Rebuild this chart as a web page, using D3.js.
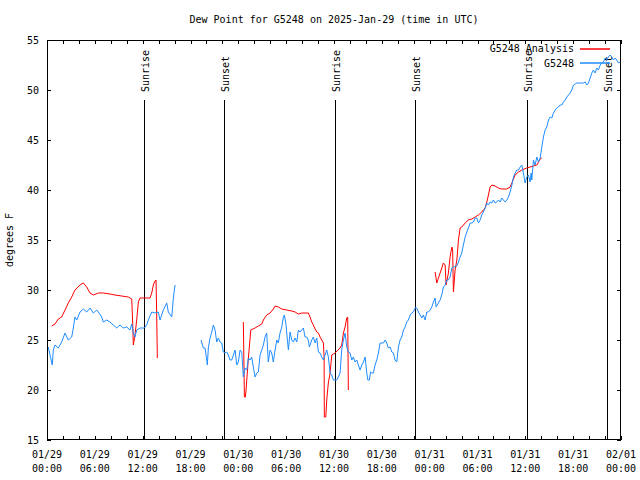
<!DOCTYPE html>
<html><head><meta charset="utf-8">
<script src="https://cdn.jsdelivr.net/npm/d3@7"></script>
<style>
body{margin:0;background:#fff}
text{font-family:"DejaVu Sans Mono","Liberation Mono",monospace;font-size:10px;fill:#000}
</style>
</head><body><svg id="c" width="640" height="480"></svg>
<script>
const title = "Dew Point for G5248 on 2025-Jan-29 (time in UTC)";
const yTitle = "degrees F";
const startTime = "2025-01-29T00:00:00Z";
const endTime = "2025-02-01T00:00:00Z";
const yTicks = [15, 20, 25, 30, 35, 40, 45, 50, 55];
const seriesNames = ["G5248 Analysis", "G5248"];
const seriesColors = ["#ff0000", "#1e8cff"];
const sunLabels = ["Sunrise", "Sunset", "Sunrise", "Sunset", "Sunrise", "Sunset"];
const sunHours = [12.17, 22.21, 36.14, 46.17, 60.23, 70.26];

// Analysis (red): hours since start, dew point F; null = gap
const anaHours = [0.59,1.0,1.42,1.84,2.26,2.67,3.10,3.51,4.14,4.55,4.98,5.40,5.81,6.44,7.06,7.90,8.53,9.37,10.20,10.63,10.75,10.83,11.04,11.25,11.46,11.67,12.30,12.92,13.14,13.34,13.55,13.68,13.77,13.84,
 null,
 24.63,24.76,24.88,24.97,25.06,25.26,25.38,25.56,26.10,26.51,26.94,27.14,27.56,27.98,28.39,28.61,29.02,29.45,30.07,30.70,31.12,31.53,31.96,32.78,32.99,33.21,33.41,33.63,33.84,34.04,34.25,34.46,34.67,34.76,34.79,34.97,35.09,35.29,35.51,35.72,36.13,36.76,36.97,37.18,37.39,37.60,37.72,37.80,
 null,
 48.68,48.90,49.10,49.31,49.52,49.72,49.94,50.06,50.35,50.56,50.78,50.88,50.98,51.19,51.41,51.61,51.82,52.03,52.45,52.86,53.29,53.70,54.12,54.54,54.96,55.17,55.37,55.58,55.80,56.21,56.62,57.05,57.68,58.09,58.31,58.72,59.14,59.56,60.18,60.60,61.02,61.44,61.86,62.07];
const anaDew = [26.4,26.6,27.1,27.3,28.0,28.7,29.3,30.0,30.5,30.7,30.3,29.7,29.5,29.7,29.7,29.6,29.5,29.4,29.3,29.1,26.7,24.5,25.5,27.0,28.8,29.2,29.2,29.2,29.7,30.5,30.9,31.0,27.0,23.2,
 null,
 26.8,19.3,19.3,20.0,21.0,23.2,24.3,26.0,26.2,26.4,26.6,27.0,27.5,27.7,28.1,28.4,28.3,28.1,28.0,27.9,27.8,27.6,27.7,27.7,27.3,26.8,26.5,26.1,25.8,25.7,25.3,25.0,24.7,23.3,17.3,17.3,19.0,20.7,21.7,23.5,23.7,24.2,24.5,25.7,26.3,27.2,27.3,20.0,
 null,
 31.8,30.7,31.2,31.7,32.2,32.7,32.5,30.5,31.7,33.3,34.3,34.0,29.8,32.0,33.0,35.0,36.2,36.3,36.7,37.0,37.1,37.3,37.5,37.8,38.2,38.8,39.5,40.3,40.5,40.4,40.2,40.1,40.1,40.3,40.7,41.5,41.8,42.0,42.2,42.3,42.4,42.5,43.1,43.2];

// Observations (blue)
const obsHours = [0.16,0.38,0.66,0.79,1.0,1.42,1.84,2.26,2.67,3.10,3.26,3.51,3.73,4.14,4.55,4.98,5.40,5.81,6.24,6.44,6.86,7.06,7.49,7.90,8.32,8.75,9.16,9.57,10.0,10.41,10.63,10.83,11.04,11.25,11.67,12.21,12.51,12.71,13.14,13.55,13.96,14.18,14.59,15.02,15.22,15.65,15.85,16.06,
 null,
 19.32,19.61,19.82,20.04,20.11,20.24,20.45,20.67,20.87,21.08,21.29,21.49,21.71,21.92,22.12,22.33,22.55,22.75,22.96,23.17,23.38,23.59,23.80,24.0,24.22,24.43,24.63,24.84,25.06,25.26,25.47,25.68,25.88,26.10,26.31,26.51,26.73,26.94,27.14,27.35,27.56,27.76,27.98,28.19,28.39,28.61,28.82,29.02,29.23,29.45,29.65,29.78,29.99,30.07,30.28,30.49,30.70,30.90,31.12,31.33,31.53,31.74,31.96,32.16,32.37,32.58,32.78,32.91,33.21,33.41,33.63,33.84,34.04,34.25,34.46,34.67,34.88,35.09,35.29,35.51,35.72,35.92,36.35,36.55,36.76,36.97,37.18,37.39,37.60,37.80,38.02,38.23,38.43,38.64,38.86,39.06,39.27,39.49,39.69,39.90,40.11,40.24,40.44,40.59,40.74,40.94,41.15,41.37,41.57,41.78,42.20,42.41,42.62,42.82,43.04,43.25,43.45,43.66,43.87,44.08,44.29,44.50,44.71,44.92,45.13,45.33,45.55,45.76,45.96,46.17,46.38,46.59,46.80,47.01,47.21,47.43,47.64,47.84,48.06,48.27,48.47,48.68,48.81,49.10,49.31,49.52,49.72,49.94,50.15,50.35,50.56,50.78,50.98,51.41,51.61,51.82,52.03,52.23,52.45,52.66,52.86,53.07,53.29,53.49,53.70,53.91,54.12,54.33,54.54,54.74,54.96,55.17,55.37,55.58,55.80,56.0,56.21,56.42,56.62,56.84,57.05,57.25,57.46,57.68,57.88,58.09,58.31,58.51,58.72,58.93,59.14,59.35,59.56,59.76,59.97,60.18,60.39,60.60,60.73,60.81,61.02,61.23,61.44,61.64,61.86,62.07,62.27,62.48,62.70,62.90,63.11,63.32,63.53,63.74,63.95,64.15,64.37,64.58,64.78,64.99,65.21,65.41,65.62,65.83,66.04,66.25,66.46,66.88,67.30,67.50,67.71,67.92,68.13,68.34,68.54,68.76,68.97,69.17,69.39,69.60,69.80,70.01,70.22,70.42,70.64,70.85,71.05,71.27,71.47,71.68,71.89];
const obsDew = [24.3,23.5,22.5,24.0,24.5,24.2,24.8,25.7,25.0,25.3,26.0,27.3,27.0,27.8,28.1,27.8,28.2,27.7,28.0,27.8,27.3,26.8,27.0,26.8,26.5,26.2,26.5,26.2,26.3,26.0,26.6,25.7,25.3,26.0,26.2,26.2,26.5,27.0,27.8,27.7,27.8,27.0,28.0,28.7,27.8,27.3,29.2,30.5,
 null,
 25.0,24.2,24.2,23.0,22.5,24.2,25.2,25.8,26.5,26.0,24.8,25.2,24.8,24.7,23.8,23.7,23.8,23.5,23.0,23.0,23.5,24.0,22.5,22.8,24.0,23.8,21.3,22.2,22.0,23.2,23.0,23.3,22.3,21.3,21.7,21.8,23.5,24.0,24.5,25.3,25.7,22.8,24.0,23.7,22.8,24.0,25.0,24.7,25.7,26.3,27.3,27.5,26.5,25.7,24.0,25.8,25.0,24.8,25.2,24.8,26.0,25.8,26.0,26.2,25.3,25.3,25.0,24.3,25.0,25.3,24.7,25.2,23.8,23.7,23.3,23.0,23.5,24.0,23.3,21.7,21.5,21.0,21.0,21.3,21.7,24.0,25.0,25.7,24.3,23.8,23.7,23.0,23.3,22.8,23.0,22.5,22.0,22.5,22.8,23.3,21.7,21.0,21.0,21.8,21.7,21.7,22.5,23.0,23.7,24.7,24.7,25.0,24.7,24.2,24.3,23.8,23.7,23.0,22.8,24.3,25.0,25.3,26.0,26.3,26.8,27.0,27.5,27.7,27.8,28.2,28.2,27.8,27.5,27.2,27.5,27.0,27.8,27.8,28.0,28.3,28.8,29.2,28.3,28.7,29.0,29.5,30.3,30.5,31.0,31.0,31.3,32.2,32.3,32.4,32.8,33.3,33.7,34.5,35.3,35.8,36.2,36.7,36.7,36.8,37.2,37.2,36.7,37.0,37.5,37.8,38.2,38.7,38.5,38.8,38.7,39.0,38.7,38.8,39.0,38.8,39.2,39.0,38.8,39.0,39.3,39.8,40.5,41.3,41.7,42.0,42.0,42.3,42.5,41.7,40.7,41.3,41.5,40.8,41.7,41.0,43.0,42.5,43.3,42.8,43.2,44.3,45.3,46.0,46.3,47.0,47.3,47.2,47.7,48.0,48.2,48.3,48.5,48.5,48.8,49.0,49.3,49.5,49.7,50.0,50.5,50.6,50.7,50.7,50.7,50.8,50.5,50.7,51.2,51.7,52.0,51.7,52.2,52.0,52.5,52.7,52.8,53.2,53.0,53.3,53.5,53.3,53.0,53.2,53.0,52.7,52.8];

const svg = d3.select("#c");
const L = 47, R = 621, T = 40, B = 440;
const t0 = new Date(startTime), t1 = new Date(endTime);
const hourToDate = h => new Date(t0.getTime() + h * 3600000);
const x = d3.scaleUtc().domain([t0, t1]).range([L, R]);
const y = d3.scaleLinear().domain([15, 55]).range([B, T]);

// title
svg.append("text").attr("x", (L + R) / 2).attr("y", 23).attr("text-anchor", "middle").text(title);
// y title
svg.append("text").attr("transform", "translate(13,240) rotate(-90)").attr("text-anchor", "middle").text(yTitle);

const g = svg.append("g").attr("shape-rendering", "crispEdges");

// ticks (x every 2h, labels every 6h)
const xTickDates = d3.utcHour.every(2).range(t0, new Date(t1.getTime() + 1));
xTickDates.forEach(d => {
  const px = Math.round(x(d)) + 0.5;
  g.append("line").attr("x1", px).attr("x2", px).attr("y1", B).attr("y2", B - 4).attr("stroke", "#000");
  g.append("line").attr("x1", px).attr("x2", px).attr("y1", T).attr("y2", T + 4).attr("stroke", "#000");
});
const fmtDay = d3.utcFormat("%m/%d"), fmtHr = d3.utcFormat("%H:%M");
d3.utcHour.every(6).range(t0, new Date(t1.getTime() + 1)).forEach(d => {
  const t = svg.append("text").attr("x", x(d)).attr("y", 458).attr("text-anchor", "middle");
  t.append("tspan").attr("x", x(d)).text(fmtDay(d));
  t.append("tspan").attr("x", x(d)).attr("y", 472).text(fmtHr(d));
});
yTicks.forEach(v => {
  const py = Math.round(y(v)) + 0.5;
  g.append("line").attr("x1", L).attr("x2", L + 4).attr("y1", py).attr("y2", py).attr("stroke", "#000");
  g.append("line").attr("x1", R - 4).attr("x2", R).attr("y1", py).attr("y2", py).attr("stroke", "#000");
  svg.append("text").attr("x", 39).attr("y", y(v)).attr("dy", "0.35em").attr("text-anchor", "end").text(v);
});

// frame
g.append("rect").attr("x", L + 0.5).attr("y", T + 0.5).attr("width", R - L - 1).attr("height", B - T - 1)
  .attr("fill", "none").attr("stroke", "#000");

// sunrise / sunset lines
sunHours.forEach((h, i) => {
  const px = Math.round(x(hourToDate(h))) + 0.5;
  g.append("line").attr("x1", px).attr("x2", px).attr("y1", 100).attr("y2", B).attr("stroke", "#000");
  svg.append("text").attr("transform", `translate(${px + 4},92) rotate(-90)`).attr("text-anchor", "start").text(sunLabels[i]);
});

// data lines
const line = d3.line().defined(d => d[1] != null).x(d => x(hourToDate(d[0]))).y(d => y(d[1]));
const anaData = anaHours.map((h, i) => [h, anaDew[i]]);
const obsData = obsHours.map((h, i) => [h, obsDew[i]]);
svg.append("path").datum(anaData).attr("d", line).attr("fill", "none").attr("stroke", seriesColors[0]).attr("stroke-width", 1);
svg.append("path").datum(obsData).attr("d", line).attr("fill", "none").attr("stroke", seriesColors[1]).attr("stroke-width", 1);

// legend
[0, 1].forEach(i => {
  const ly = 48.5 + i * 14.5;
  svg.append("text").attr("x", 574).attr("y", ly).attr("dy", "0.35em").attr("text-anchor", "end").text(seriesNames[i]);
  svg.append("line").attr("x1", 580).attr("x2", 610).attr("y1", Math.round(ly)).attr("y2", Math.round(ly))
    .style("stroke", seriesColors[i]).style("stroke-width", 1.5);
});
</script>
</body></html>
